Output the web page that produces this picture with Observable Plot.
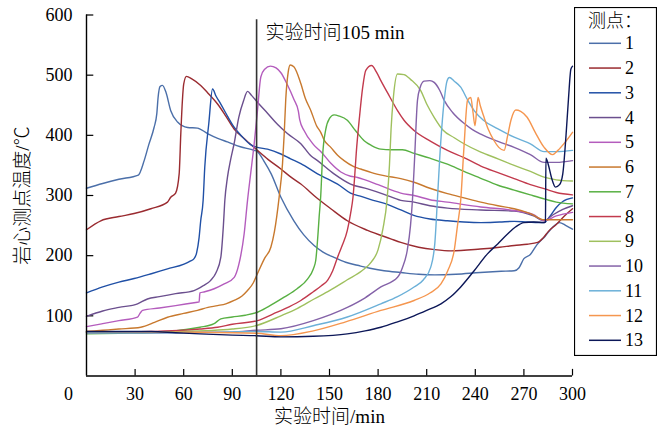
<!DOCTYPE html>
<html><head><meta charset="utf-8">
<script src="https://cdn.jsdelivr.net/npm/d3@7"></script>
<script src="https://cdn.jsdelivr.net/npm/@observablehq/plot@0.6"></script>
<style>
body{margin:0;background:#fff;}
#wrap{position:relative;width:663px;height:436px;font-family:"Liberation Serif","Times New Roman","Noto Sans CJK SC",serif;}
#legend{position:absolute;left:574px;top:7px;}
</style></head>
<body><div id="wrap"><div id="chart"></div><div id="legend"></div></div>
<script>
// ---- data ----
const seriesNames = ["1","2","3","4","5","6","7","8","9","10","11","12","13"];
const seriesColors = ["#4b6fa9","#9a2b30","#2050a6","#6b4f8e","#b45cbd","#c8792e","#58b043","#c23a4d","#9fc05e","#8462a8","#6bb0d8","#f5964f","#0c1758"];
const xTicks = [30,60,90,120,150,180,210,240,270,300];
const yTicks = [100,200,300,400,500,600];
const markerTime = 105;
const markerTop = 592;
const markerLabel = "实验时间105 min";
const markerLabelY = 571;
const xLabel = "实验时间/min";
const yLabel = "岩心测点温度/℃";
const legendTitle = "测点：";

const s1 = [[0,312],[10,320],[20,327],[32,334],[35.6,358],[38.5,385],[41.7,413],[43.4,436],[44.2,463],[45.4,481],[46.9,483],[49,472],[52,441],[56.2,422],[62.4,413],[68.5,412],[74.7,403],[81,395],[87,389],[95,381],[103.5,375],[105.5,373],[110,355],[114,336],[120,297],[128,258],[134,235],[140.5,217],[146,206],[152.8,197],[160,189],[167.3,184],[175,179],[183.7,175],[194,172],[205,169],[215,168],[228,169],[243,172],[256,174],[264,175],[267,180],[270,195],[274,202],[278,218],[283,232],[288,248],[292,255],[296,250],[300,244]];
const s2 = [[0,243],[8.8,258],[20,265],[29.4,270],[39.7,278],[50,289],[52,297],[55,304],[57.2,336],[58.2,402],[59.2,458],[60,485],[61.7,498],[65,494],[70.5,483],[75,470],[80.9,452],[86,432],[91,411],[98,393],[105.5,375],[112,360],[120,344],[126,331],[132.3,319],[142.6,295],[150.8,278],[161,258],[173.5,242],[187.8,228],[194,222],[205,214],[215,210],[225,208],[243,211],[255,214],[264,217],[272,219],[278.5,222],[282,230],[285,240],[290,252],[295,266],[300,278]];
const s3 = [[0,138],[10,148],[20,156],[29.4,162],[40,170],[50,178],[60.2,186],[64,191],[66.4,195],[68,205],[69.5,230],[70.5,258],[72,292],[73,347],[75.5,420],[77.8,477],[80,465],[82.9,452],[87,432],[91,414],[96,398],[101,385],[105.5,380],[111.7,377],[120,369],[126,361],[132.3,353],[142.6,336],[150,326],[155,319],[163,304],[170,298],[177,292],[184,287],[194,276],[202,267],[212,261],[222.8,258],[233,256],[243.4,255],[255,256],[264,257],[272,256],[282.5,255],[286,265],[290,280],[294,290],[300,296]];
const s4 = [[0,99],[10,108],[20,114],[31.5,120],[37.6,128],[45,132],[55,137],[66.4,142],[72,150],[76.7,159],[80,172],[82.9,197],[84.5,250],[85.4,292],[87,330],[89,360],[91.1,386],[94,430],[97,458],[99.4,473],[102,466],[106.5,452],[112,436],[118,418],[124,403],[132.3,386],[138.5,366],[142.6,358],[152.8,336],[163,319],[173.5,311],[183.7,302],[194,292],[202.2,289],[212,283],[222.8,279],[243.4,276],[264,274],[276,266],[282.5,258],[288,268],[294,277],[300,283]];
const s5 = [[0,82],[10,87],[20,92],[31.5,98],[33,104],[34.6,109],[45,113],[55,117],[68.5,122.6],[69.5,123],[70,138],[73,140],[78.8,145],[85,153],[91.2,164],[94,185],[97.3,236],[99.4,292],[101.5,340],[103.5,386],[105.5,440],[107.6,497],[110,510],[113.5,515],[117,512],[120,504],[124,484],[128,460],[130.8,440],[131.6,426],[134.3,408],[140,385],[145,372],[151,353],[157,339],[163,332],[167.3,330],[172,326],[180,318],[194,304],[202.2,300],[212,293],[222.8,289],[243.4,281],[264,275],[276,268],[282.5,258],[290,266],[300,272]];
const s6 = [[0,74],[10,76],[20,78],[33.5,81],[42,89],[50,97.7],[60,104],[68.5,109],[75,114],[80.9,117],[86,120],[91.1,125.5],[96,133],[99.4,142],[103,155],[105.5,170],[110,196],[113.8,214],[116,240],[118.9,297],[121,353],[122,400],[123,460],[124.5,505],[125.7,517],[128,514],[132.3,486],[135,462],[138.5,441],[142,416],[144.6,405],[146.7,392],[150.8,380],[155,367],[159,358],[165,348],[169.3,344],[176,338],[183.7,333],[194,328],[202.2,322],[212,312],[222.8,303],[233,296],[243.4,289],[254,283],[264,278],[274,270],[282.5,259.6],[290,259.6],[300,259.6]];
const s7 = [[0,70],[20,71],[40,72],[50,73],[60,77],[70,81],[78.8,87],[82.9,95],[90,98],[98,101],[105.5,106],[112,115],[122,131],[130,145],[136.4,161],[140,178],[141.5,192],[143,240],[143.6,264],[144.6,300],[145.7,364],[147.7,410],[150,428],[152.8,434],[156,432],[161,425],[166,408],[171.4,391],[176,383],[181.7,377],[188,376],[195,376],[202.2,370],[212,362],[222.8,352],[233,340],[243,329],[254,317],[264,309],[274,301],[283,294],[290,289],[300,286]];
const s8 = [[0,72],[20,73],[40,74],[60,76],[70,78],[80.9,81],[90,86],[105.5,92],[115,103],[125,115],[132.3,125.5],[140,140],[145,150],[148.8,159],[152,175],[155,197.5],[158,218],[161,242],[163,270],[164.5,297],[165.5,330],[166.5,370],[168.5,430],[170.5,480],[172.4,508],[176,516],[179,505],[181.7,491],[187,465],[192,441],[196,425],[202.2,408],[212.5,390],[222.8,375],[233,363],[243.4,349],[254,338],[264,328],[274,318],[283,311],[290,305],[300,301]];
const s9 = [[0,72],[30,73],[60,74],[90,78],[105,84],[120,100],[130,112],[140.5,128],[150,142],[161,160],[170,175],[176,190],[180,210],[183,245],[185.5,292],[187,350],[188,410],[189.5,465],[192,502],[196,501],[200,493],[206.4,474],[210,452],[214.6,430],[220,409],[227,396],[233,386],[243.4,372],[254,361],[264,350],[274,340],[283,330],[290,326],[300,324]];
const s10 = [[0,72],[50,72],[90,73],[105,76],[120,78.5],[140,92],[161,114],[172,130],[181.7,148],[192,164],[195,180],[198,209],[200,250],[201.2,292],[202.5,360],[204.3,458],[206,480],[208.4,490],[212,491],[214.6,488],[218,475],[220.8,458],[226,438],[233,420],[238,410],[243.4,402],[254,390],[264,380],[274,368],[282.5,355],[290,355],[300,358]];
const s11 = [[0,72],[60,72],[105,74],[120,73],[140.5,84],[161,98],[181.7,120],[192,132],[202.2,148],[208,160],[212.5,181],[215,220],[216.6,292],[218,360],[220.8,458],[222.5,490],[224,496],[227,490],[231,480],[235,460],[239.3,441],[245,425],[253.7,411],[264,397],[274,386],[282.5,373],[290,373],[300,375]];
const s12 = [[0,74],[60,73],[105,71],[120,67],[140,75],[160,90],[181.7,109],[202.2,125.5],[212,138],[218.8,153],[223,175],[227,209],[229,250],[231,292],[233,380],[235.2,458],[237.2,463],[238.5,440],[239.8,416],[240.8,440],[241.7,463],[243,450],[245.4,430],[248,410],[251.6,391],[254.5,380],[257.8,375],[260,400],[262,425],[265,442],[268,440],[272,430],[277,405],[282.5,380],[287.7,368],[291,375],[295,387],[300,405]];
const s13 = [[0,74],[20,74],[40,74],[55,72],[70,70],[90,68],[105,67],[120,65],[140,66],[161,70],[172,75],[181.7,81],[192,90],[202.2,100],[210,109],[218.8,120],[225,132],[231,148],[239.3,175],[247.5,203],[254,220],[259.9,236],[265,248],[270,255],[276,256],[282.5,255],[283.3,256],[283.6,362],[285,352],[287,330],[289.5,314],[292,318],[294,336],[296,400],[297.5,460],[299,510],[300,515]];
const seriesValues = [s1,s2,s3,s4,s5,s6,s7,s8,s9,s10,s11,s12,s13];

// ---- table ----
const table = seriesValues.flatMap((s, i) => s.map(([t, v]) => ({t, v, k: seriesNames[i]})));

const font = '"Liberation Serif","Times New Roman","Noto Sans CJK SC",serif';
const chart = Plot.plot({
  width: 663, height: 436,
  marginLeft: 86, marginRight: 91, marginTop: 14.5, marginBottom: 60.5,
  x: {domain: [0, 300]},
  y: {domain: [0, 600]},
  color: {domain: seriesNames, range: seriesColors},
  style: {fontFamily: font, fontSize: "18px", color: "#000", background: "transparent", overflow: "visible"},
  marks: [
    Plot.axisX({ticks: xTicks, tickSize: 0, tickPadding: 11, label: null, fontSize: 18}),
    Plot.axisY({ticks: yTicks, tickSize: 0, tickPadding: 14, label: null, fontSize: 18}),
    Plot.ruleX(xTicks, {x: d => d, y1: 0, y2: 11, stroke: "#000", strokeWidth: 1.2}),
    Plot.ruleY(yTicks, {y: d => d, x1: 0, x2: 4.5, stroke: "#000", strokeWidth: 1.2}),
    Plot.line(table, {x: "t", y: "v", z: "k", stroke: "k", strokeWidth: 1.4, curve: "monotone-x"}),
    Plot.ruleX([0], {stroke: "#000", strokeWidth: 1.4}),
    Plot.ruleY([0], {stroke: "#000", strokeWidth: 1.4}),
    Plot.ruleX([markerTime], {y1: 0, y2: markerTop, stroke: "#333", strokeWidth: 1.6}),
    Plot.text([markerLabel], {x: markerTime, y: markerLabelY, dx: 9, text: d => d, textAnchor: "start", fontSize: 19, fontWeight: 300}),
    Plot.text(["0"], {x: 0, y: 0, dx: -18, dy: 18, text: d => d, fontSize: 18}),
    Plot.text([xLabel], {frameAnchor: "bottom", dy: 46.5, text: d => d, fontSize: 19, fontWeight: 300}),
    Plot.text([yLabel], {frameAnchor: "left", dx: -64, rotate: -90, textAnchor: "middle", text: d => d, fontSize: 19, fontWeight: 300})
  ]
});
document.getElementById("chart").appendChild(chart);

// ---- legend ----
const lw = 83, lh = 349;
const lsvg = d3.select("#legend").append("svg").attr("width", lw).attr("height", lh)
  .style("font-family", font);
lsvg.append("rect").attr("x", 0.5).attr("y", 0.5).attr("width", lw - 1).attr("height", lh - 1)
  .attr("fill", "#fff").attr("stroke", "#000").attr("stroke-width", 1.2);
lsvg.append("text").attr("x", 41).attr("y", 13.5).attr("text-anchor", "middle")
  .attr("dominant-baseline", "central").attr("font-size", 18).attr("font-weight", 300).text(legendTitle);
seriesNames.forEach((n, i) => {
  const y = 36.3 + i * 24.75;
  lsvg.append("line").attr("x1", 15).attr("x2", 47).attr("y1", y).attr("y2", y)
    .attr("stroke", seriesColors[i]).attr("stroke-width", 1.5);
  lsvg.append("text").attr("x", 51).attr("y", y).attr("dominant-baseline", "central")
    .attr("font-size", 18).text(n);
});
</script>
</body></html>
